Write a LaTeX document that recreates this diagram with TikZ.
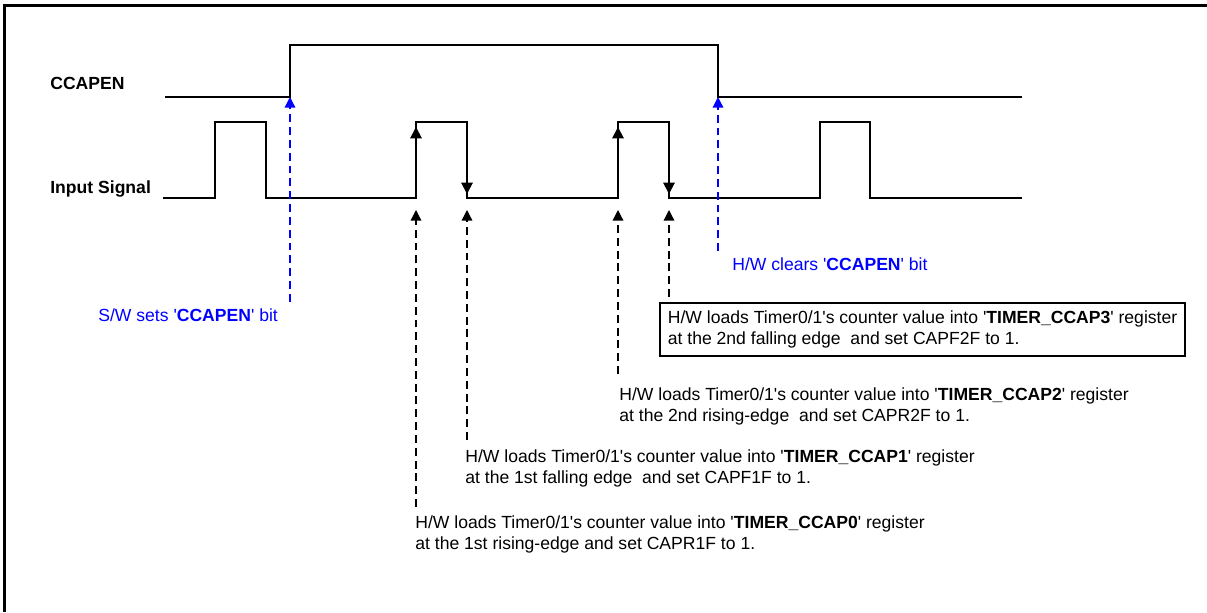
\documentclass[tikz,border=0pt]{standalone}
\usepackage{fontspec}
\setmainfont{Liberation Sans}
\usetikzlibrary{arrows.meta}
\definecolor{Bc}{HTML}{0000FF}
\newcommand{\regname}[1]{\textquotesingle\textbf{#1}\textquotesingle}
\newcommand{\loadtxt}[1]{H/W loads Timer0/1\textquotesingle s counter value into \regname{#1} register}

\begin{document}
\begin{tikzpicture}[x=0.02cm, y=-0.02cm, font=\fontsize{10}{12.2}\selectfont,
    wave/.style={line width=1.1pt},
    edgearrow/.style={line width=1.1pt, -{Triangle[length=6.5pt,width=6.5pt]}},
    capline/.style={dash pattern=on 4.5pt off 2.8pt, line width=0.7pt, -{Triangle[length=6pt,width=6pt]}},
    swline/.style={capline, Bc},
    note/.style={anchor=north west, inner sep=0pt, align=left},
    bnote/.style={anchor=base west, inner sep=0pt, text=Bc},
    lbl/.style={anchor=base west, inner sep=0pt, font=\fontsize{10}{12.2}\selectfont\bfseries}]
  \useasboundingbox (0,0) rectangle (1207,612);
  \draw[line width=1.7pt] (4.7,612) -- (4.7,5.3) -- (1207,5.3);

  \node[lbl] (ccapen) at (50,89.3) {CCAPEN};
  \node[lbl] (insig) at (50,193.3) {Input Signal};

  \draw[wave] (165,97) -- (290,97) coordinate (swset) -- (290,45) -- (718,45)
    -- (718,97) coordinate (hwclr) -- (1022,97);
  \draw[wave] (163,198) -- (215,198) -- (215,122) -- (266,122) -- (266,198)
    -- (416,198) coordinate (r1) -- (416,122) coordinate (r1h)
    -- (467,122) coordinate (f1h) -- (467,198) coordinate (f1)
    -- (618,198) coordinate (r2) -- (618,122) coordinate (r2h)
    -- (669,122) coordinate (f2h) -- (669,198) coordinate (f2)
    -- (820,198) -- (820,122) -- (870,122) -- (870,198) -- (1022,198);
  \draw[edgearrow, shorten >=0.1cm] (r1) -- (r1h);
  \draw[edgearrow, shorten >=0.1cm] (r2) -- (r2h);
  \draw[edgearrow, shorten >=0.08cm] (f1h) -- (f1);
  \draw[edgearrow, shorten >=0.08cm] (f2h) -- (f2);

  \node[note] (t0) at (415,515) {\loadtxt{TIMER\_CCAP0}\\at the 1st rising-edge and set CAPR1F to 1.};
  \node[note] (t1) at (465,449) {\loadtxt{TIMER\_CCAP1}\\at the 1st falling edge\ \ and set CAPF1F to 1.};
  \node[note] (t2) at (619,387) {\loadtxt{TIMER\_CCAP2}\\at the 2nd rising-edge\ \ and set CAPR2F to 1.};
  \node[note, draw, line width=1.1pt, inner xsep=4.5pt, inner ysep=4.2pt] (t3) at (659,302)
    {\loadtxt{TIMER\_CCAP3}\\at the 2nd falling edge\ \ and set CAPF2F to 1.};
  \draw[capline, shorten <=0.16cm, shorten >=0.24cm] (t0.north -| r1) -- (r1);
  \draw[capline, shorten <=0.18cm, shorten >=0.24cm] (t1.north -| f1) -- (f1);
  \draw[capline, shorten <=0.26cm, shorten >=0.24cm] (t2.north -| r2) -- (r2);
  \draw[capline, shorten <=0.1cm, shorten >=0.24cm] (t3.north -| f2) -- (f2);

  \node[bnote] (swnote) at (98,321.3) {S/W sets \regname{CCAPEN} bit};
  \node[bnote] (hwnote) at (732,270) {H/W clears \regname{CCAPEN} bit};
  \draw[swline, shorten <=0.13cm] (swnote.north -| swset) -- (swset);
  \draw[swline, shorten <=0.12cm] (hwnote.north -| hwclr) -- (hwclr);
\end{tikzpicture}
\end{document}
